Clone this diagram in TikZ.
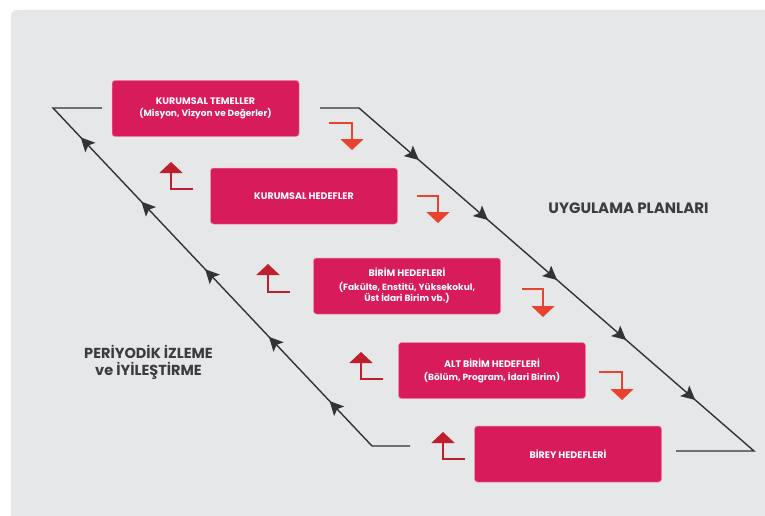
\documentclass[tikz,border=0pt]{standalone}
\usepackage{fontspec}
\setmainfont{Poppins}
\usetikzlibrary{arrows.meta,decorations.markings}
\definecolor{bg}{HTML}{E6E7E8}
\definecolor{boxc}{HTML}{D81B5B}
\definecolor{boxedge}{HTML}{F08AA8}
\definecolor{downc}{HTML}{E8432F}
\definecolor{upc}{HTML}{BF1E2D}
\definecolor{linec}{HTML}{333333}
\definecolor{labc}{HTML}{3C3C3E}
\newcommand{\bsub}{\fontsize{9}{10.5}\selectfont}
\newcommand{\flowtip}{\fill[linec] (6pt,0pt) -- (-8pt,7pt) -- (-5pt,0pt) -- (-8pt,-7pt) -- cycle;}
\tikzset{
  box/.style={fill=boxc, draw=boxedge, line width=0.5pt, rounded corners=3pt,
    minimum width=187pt, minimum height=56pt, inner sep=0pt, text=white,
    align=center, font=\fontsize{9.5}{11}\selectfont\bfseries},
  blk/.style={draw=linec, line width=1.4pt, line join=miter},
  rmarks/.style={decoration={markings,
      mark=at position 0.14 with {\flowtip},
      mark=at position 0.315 with {\flowtip},
      mark=at position 0.49 with {\flowtip},
      mark=at position 0.665 with {\flowtip},
      mark=at position 0.84 with {\flowtip}},
    decorate},
  lmarks/.style={decoration={markings,
      mark=at position 0.12 with {\flowtip},
      mark=at position 0.31 with {\flowtip},
      mark=at position 0.51 with {\flowtip},
      mark=at position 0.71 with {\flowtip},
      mark=at position 0.90 with {\flowtip}},
    decorate},
  downarr/.style={draw=downc, line width=2pt, -{Triangle[length=11pt,width=23pt]}},
  uparr/.style={draw=upc, line width=2pt, -{Triangle[length=11pt,width=23pt]}},
  lbl/.style={text=labc, font=\bfseries, align=center, inner sep=0pt}
}
\begin{document}
\begin{tikzpicture}[x=1pt,y=-1pt]
\useasboundingbox (0,0) rectangle (765,516);
\fill[white] (0,0) rectangle (765,516);
\fill[bg, rounded corners=6pt] (11,10) rectangle (800,560);

% boxes
\node[box] (b1) at (205.5,108.5) {KURUMSAL TEMELLER\\[1pt]{\bsub(Misyon, Vizyon ve Değerler)}};
\node[box] (b2) at (304,196) {KURUMSAL HEDEFLER};
\node[box] (b3) at (407,286) {BİRİM HEDEFLERİ\\[3pt]{\bsub(Fakülte, Enstitü, Yüksekokul,}\\{\bsub Üst İdari Birim vb.)}};
\node[box] (b4) at (492,370.5) {ALT BİRİM HEDEFLERİ\\[2pt]{\bsub(Bölüm, Program, İdari Birim)}};
\node[box] (b5) at (568,454) {BİREY HEDEFLERİ};

% right line (plans)
\coordinate (r0) at (320,108);
\coordinate (r1) at (359,108);
\coordinate (r2) at (754,451);
\coordinate (r3) at (676,451);
\draw[blk] (r0) -- (r1) -- (r2) -- (r3);
\path[rmarks] (r1) -- (r2);

% left line (monitoring)
\coordinate (l0) at (102,108);
\coordinate (l1) at (53,108);
\coordinate (l2) at (372,446);
\coordinate (l3) at (410,446);
\draw[blk] (l0) -- (l1) -- (l2) -- (l3);
\path[lmarks] (l2) -- (l1);

% red down arrows
\coordinate (d1s) at (329,123); \coordinate (d1e) at (352,150);
\coordinate (d2s) at (417,196); \coordinate (d2e) at (438,223);
\coordinate (d3s) at (522,289); \coordinate (d3e) at (543,317);
\coordinate (d4s) at (599,372); \coordinate (d4e) at (622,400);
\draw[downarr] (d1s) -| (d1e);
\draw[downarr] (d2s) -| (d2e);
\draw[downarr] (d3s) -| (d3e);
\draw[downarr] (d4s) -| (d4e);

% red up arrows
\coordinate (u1s) at (193,189); \coordinate (u1e) at (171,162);
\coordinate (u2s) at (290,292); \coordinate (u2e) at (268,264);
\coordinate (u3s) at (383,379); \coordinate (u3e) at (361,352);
\coordinate (u4s) at (465,459); \coordinate (u4e) at (443,432);
\draw[uparr] (u1s) -| (u1e);
\draw[uparr] (u2s) -| (u2e);
\draw[uparr] (u3s) -| (u3e);
\draw[uparr] (u4s) -| (u4e);

% labels
\node[lbl, font=\fontsize{15}{17}\selectfont\bfseries] (plan) at (628.5,208) {UYGULAMA PLANLARI};
\node[lbl, font=\fontsize{14.5}{17}\selectfont\bfseries] (izle) at (148.5,362) {PERİYODİK İZLEME\\ve İYİLEŞTİRME};
\end{tikzpicture}
\end{document}
